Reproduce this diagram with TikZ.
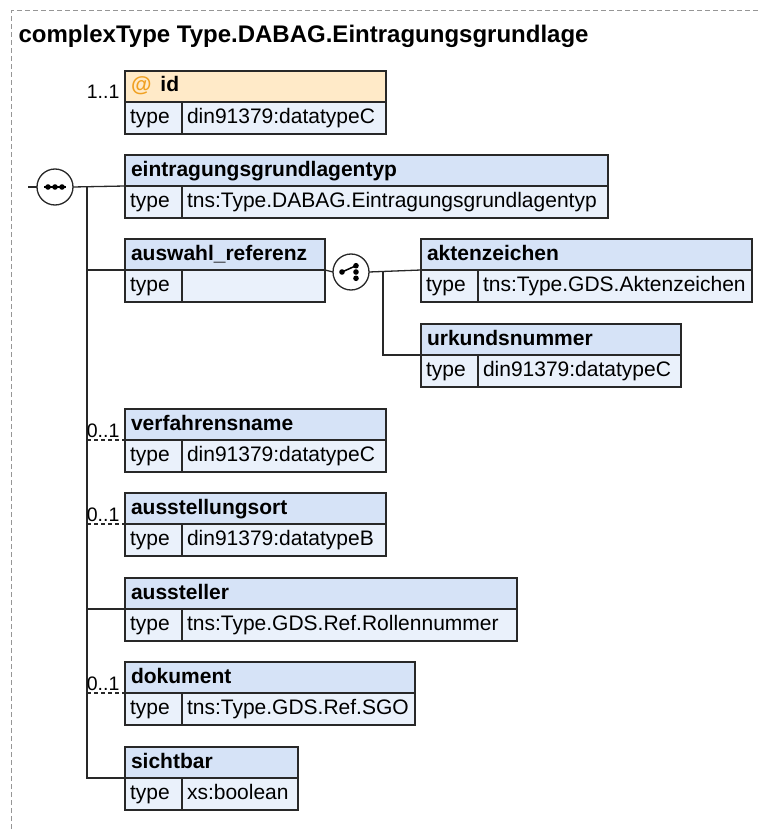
\documentclass[tikz,border=0pt]{standalone}
\usepackage{fontspec}
\setmainfont{Liberation Sans}
\usetikzlibrary{positioning}

\definecolor{hdrblue}{RGB}{214,227,247}
\definecolor{rowblue}{RGB}{234,241,251}
\definecolor{attrpeach}{RGB}{255,234,200}
\definecolor{atorange}{RGB}{240,160,32}
\definecolor{boxline}{RGB}{40,40,40}
\definecolor{framegrey}{RGB}{150,150,150}

\tikzset{
  hdr/.style={draw=boxline, fill=hdrblue, anchor=north west, inner xsep=6pt, inner ysep=0pt, outer sep=0pt,
    minimum height=31pt, text height=15pt, text depth=4pt, font=\fontsize{21}{24}\selectfont\bfseries},
  cell/.style={draw=boxline, fill=rowblue, anchor=north west, inner xsep=5pt, inner ysep=0pt, outer sep=0pt,
    minimum height=32pt, text height=15pt, text depth=4pt, font=\fontsize{21}{24}\selectfont},
  mult/.style={anchor=base east, inner sep=1pt, font=\fontsize{19.5}{22}\selectfont},
  compositor/.style={circle, draw=boxline, fill=white, line width=1.3pt, minimum size=36pt, inner sep=0pt, outer sep=0pt},
  wire/.style={draw=boxline, line width=1.3pt},
  optwire/.style={wire, dash pattern=on 4pt off 3pt}
}

% element box: name, x, y, width, title, type
\newcommand{\xelem}[6]{%
  \pgfmathsetlengthmacro{\hdrtw}{#4-12pt}%
  \pgfmathsetlengthmacro{\valw}{#4-57pt-10pt}%
  \node[hdr] (#1) at (#2,#3) {\makebox[\hdrtw][l]{#5}};
  \node[cell] (#1-t) at (#1.south west) {\makebox[47pt][l]{type}};
  \node[cell] (#1-v) at (#1-t.north east) {\makebox[\valw][l]{#6}};
}

\begin{document}
\begin{tikzpicture}[x=1pt, y=-1pt, line width=1.3pt]
  \useasboundingbox (0,0) rectangle (758,829);

  % frame and title
  \draw[framegrey, line width=1pt, dash pattern=on 5pt off 3pt] (11,829) -- (11,11) -- (758,11);
  \node[anchor=base west, inner sep=0pt, font=\fontsize{24}{28}\selectfont\bfseries] (title) at (18,43)
    {complexType Type.DABAG.Eintragungsgrundlage};

  % attribute
  \xelem{id}{125}{71}{261}{}{din91379:datatypeC}
  \node[hdr, fill=attrpeach] (id) at (125,71)
    {\makebox[249pt][l]{\textcolor{atorange}{@}\hspace{9pt}id}};
  \node[mult] (id-m) at ([xshift=-4pt,yshift=3pt]id.south west) {1..1};

  % sequence
  \node[compositor] (seq) at (55,187) {};
  \draw[line width=1.5pt] ([xshift=-11pt]seq.center) -- ([xshift=11pt]seq.center);
  \foreach \dx in {-7,0,7}
    \fill ([xshift=\dx pt]seq.center) circle (2.8pt);
  \coordinate (stub) at (28,187);
  \coordinate (bus) at (87,187);

  \xelem{eintr}{125}{155}{483}{eintragungsgrundlagentyp}{tns:Type.DABAG.Eintragungsgrundlagentyp}
  \xelem{ausw}{125}{239}{200}{auswahl\_referenz}{}
  \xelem{akten}{421}{239}{331}{aktenzeichen}{tns:Type.GDS.Aktenzeichen}
  \xelem{urk}{421}{324}{260}{urkundsnummer}{din91379:datatypeC}
  \xelem{verf}{125}{409}{261}{verfahrensname}{din91379:datatypeC}
  \xelem{ort}{125}{493}{261}{ausstellungsort}{din91379:datatypeB}
  \xelem{aussteller}{125}{578}{392}{aussteller}{tns:Type.GDS.Ref.Rollennummer}
  \xelem{dok}{125}{662}{290}{dokument}{tns:Type.GDS.Ref.SGO}
  \xelem{sicht}{125}{747}{173}{sichtbar}{xs:boolean}

  % choice
  \node[compositor] (choice) at (351,272) {};
  \draw[line width=1.5pt] ([xshift=-9pt]choice.center) -- ([xshift=5pt, yshift=6.3pt]choice.center);
  \foreach \dx/\dy in {-9/0, 5/6.3, 5/0, 5/-6.3}
    \fill ([xshift=\dx pt, yshift=\dy pt]choice.center) circle (2.8pt);
  \coordinate (cbus) at (383,272);

  % connectors
  \draw[wire] (stub) -- (seq.west);
  \draw[wire] (seq.east) -- (eintr.south west);
  \draw[wire] (bus) -- (bus |- sicht.south west) -- (sicht.south west);
  \draw[wire] (bus |- ausw.south west) -- (ausw.south west);
  \draw[optwire] (bus |- verf.south west) -- (verf.south west);
  \draw[optwire] (bus |- ort.south west) -- (ort.south west);
  \draw[wire] (bus |- aussteller.south west) -- (aussteller.south west);
  \draw[optwire] (bus |- dok.south west) -- (dok.south west);
  \draw[wire] (ausw.south east) -- (choice.west);
  \draw[wire] (choice.east) -- (akten.south west);
  \draw[wire] (cbus) |- (urk.south west);

  % multiplicities
  \node[mult] (verf-m) at ([xshift=-4pt,yshift=3pt]verf.south west) {0..1};
  \node[mult] (ort-m) at ([xshift=-4pt,yshift=3pt]ort.south west) {0..1};
  \node[mult] (dok-m) at ([xshift=-4pt,yshift=3pt]dok.south west) {0..1};
\end{tikzpicture}
\end{document}
